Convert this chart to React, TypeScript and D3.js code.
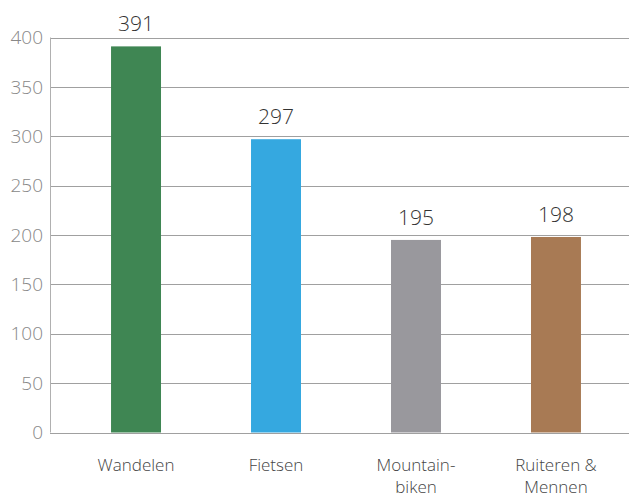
import React from "react";
import * as d3 from "d3";

const categories: string[][] = [["Wandelen"], ["Fietsen"], ["Mountain-", "biken"], ["Ruiteren &", "Mennen"]];
const values: number[] = [391, 297, 195, 198];
const colors: string[] = ["#3f8653", "#35a8e0", "#99989d", "#a87a54"];
const yTicks: number[] = [0, 50, 100, 150, 200, 250, 300, 350, 400];

export default function App() {
  const W = 629, H = 497;
  const x0 = 50;
  const keys = categories.map((c) => c.join(" "));
  const x = d3.scaleBand<string>().domain(keys).range([x0, 642]).paddingInner(0.643).paddingOuter(0.436);
  const y = d3.scaleLinear().domain([0, 400]).range([432.5, 37.5]);
  const font = "'Open Sans', Lato, sans-serif";
  return (
    <svg width={W} height={H} style={{ position: "absolute", left: 0, top: 0, fontFamily: font }}>
      {yTicks.map((t) => (
        <g key={t}>
          <line x1={x0} x2={W} y1={Math.round(y(t)) + 0.5} y2={Math.round(y(t)) + 0.5} stroke="#a0a0a0" strokeWidth={1} />
          <text x={43} y={y(t)} dy="0.35em" textAnchor="end" fontSize={19} fontWeight={300} fill="#888">{t}</text>
        </g>
      ))}
      <line x1={x0 + 0.5} x2={x0 + 0.5} y1={y(400)} y2={y(0)} stroke="#b0b0b0" strokeWidth={1} />
      {values.map((v, i) => {
        const k = keys[i];
        const bx = x(k)!;
        const cx = bx + x.bandwidth() / 2;
        return (
          <g key={k}>
            <rect x={bx} y={y(v)} width={x.bandwidth()} height={y(0) - y(v)} fill={colors[i]} />
            <text x={cx} y={y(v) - 15} textAnchor="middle" fontSize={21} fontWeight={300} fill="#333">{v}</text>
            {categories[i].map((line, j) => (
              <text key={j} x={cx} y={471 + j * 22} textAnchor="middle" fontSize={17} fontWeight={300} fill="#444">{line}</text>
            ))}
          </g>
        );
      })}
    </svg>
  );
}
